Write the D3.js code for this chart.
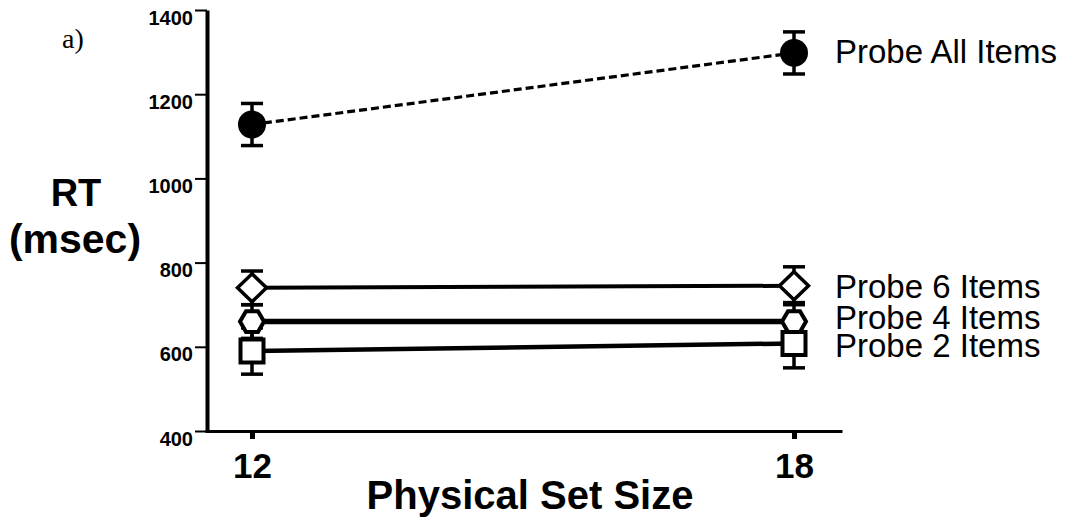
<!DOCTYPE html>
<html><head><meta charset="utf-8">
<script src="https://cdn.jsdelivr.net/npm/d3@7"></script>
<style>body{margin:0;background:#fff}svg{display:block;font-family:"Liberation Sans",Arial,sans-serif}</style>
</head><body><svg id="c" width="1075" height="529"></svg>
<script>
// ---- data ----
const setSizes = [12, 18];
const xTickValues = [12, 18];
const yTickValues = [400, 600, 800, 1000, 1200, 1400];
const seriesNames = ["Probe All Items", "Probe 6 Items", "Probe 4 Items", "Probe 2 Items"];
const probeAll = [1128, 1298];
const probeAllErr = [50, 50];
const probe6 = [740, 745];
const probe6Err = [40, 45];
const probe4 = [660, 660];
const probe4Err = [40, 45];
const probe2 = [590, 608];
const probe2Err = [55, 58];

// ---- layout / style ----
const svg = d3.select("#c");
const x = d3.scaleLinear().domain([12, 18]).range([252, 794]);
const y = d3.scaleLinear().domain([400, 1400]).range([431, 10]);
const axisX0 = 205, axisX1 = 842, axisY = 431, yAxisX = 207;

const series = [
  {name: seriesNames[0], vals: probeAll, errs: probeAllErr, lw: 3.2, dash: "8,4", marker: "circle", labelY: 63},
  {name: seriesNames[1], vals: probe6, errs: probe6Err, lw: 4, dash: null, marker: "diamond", labelY: 298},
  {name: seriesNames[2], vals: probe4, errs: probe4Err, lw: 5.5, dash: null, marker: "hexagon", labelY: 329},
  {name: seriesNames[3], vals: probe2, errs: probe2Err, lw: 4.5, dash: null, marker: "square", labelY: 357}
];

// ---- axes ----
const yAxis = svg.append("g").attr("transform", `translate(${yAxisX},0)`)
  .call(d3.axisLeft(y).tickValues(yTickValues).tickSize(12).tickSizeOuter(0).tickFormat(d3.format("d")));
yAxis.select(".domain").attr("stroke", "#000").attr("stroke-width", 4);
yAxis.selectAll(".tick line").attr("stroke", "#000").attr("stroke-width", 2);
yAxis.selectAll(".tick text").attr("x", -14).attr("y", 14).attr("dy", 0)
  .attr("font-size", 20).attr("font-weight", "bold").attr("fill", "#000")
  .attr("font-family", "'Liberation Sans', Arial, sans-serif");

const xAxisScale = x.copy().domain([x.invert(axisX0), x.invert(axisX1)]).range([axisX0, axisX1]);
const xAxis = svg.append("g").attr("transform", `translate(0,${axisY})`)
  .call(d3.axisBottom(xAxisScale).tickValues(xTickValues).tickSize(8).tickSizeOuter(0).tickFormat(d3.format("d")));
xAxis.select(".domain").attr("stroke", "#000").attr("stroke-width", 3);
xAxis.selectAll(".tick line").attr("stroke", "#000").attr("stroke-width", 5);
xAxis.selectAll(".tick text").attr("y", 47).attr("dy", 0)
  .attr("font-size", 35).attr("font-weight", "bold").attr("fill", "#000")
  .attr("font-family", "'Liberation Sans', Arial, sans-serif");

// ---- error bars ----
const capW = 11;
series.forEach(s => {
  const g = svg.append("g").attr("stroke", "#000").attr("stroke-width", 3.5);
  setSizes.forEach((k, i) => {
    const cx = x(k), top = y(s.vals[i] + s.errs[i]), bot = y(s.vals[i] - s.errs[i]);
    g.append("line").attr("x1", cx).attr("x2", cx).attr("y1", top).attr("y2", bot);
    g.append("line").attr("x1", cx - capW).attr("x2", cx + capW).attr("y1", top).attr("y2", top);
    g.append("line").attr("x1", cx - capW).attr("x2", cx + capW).attr("y1", bot).attr("y2", bot);
  });
});

// ---- lines ----
const line = d3.line().x((d, i) => x(setSizes[i])).y(d => y(d));
series.forEach(s => {
  svg.append("path").attr("d", line(s.vals)).attr("fill", "none").attr("stroke", "#000")
    .attr("stroke-width", s.lw).attr("stroke-dasharray", s.dash);
});

// ---- markers ----
const shapes = {
  diamond: "M0,-14L14.5,0L0,14L-14.5,0Z",
  hexagon: "M-12,0L-6,-10.4L6,-10.4L12,0L6,10.4L-6,10.4Z",
  square: "M-11.5,-11.5H11.5V11.5H-11.5Z"
};
series.forEach(s => {
  setSizes.forEach((k, i) => {
    const cx = x(k), cy = y(s.vals[i]);
    if (s.marker === "circle") {
      svg.append("circle").attr("cx", cx).attr("cy", cy).attr("r", 14).attr("fill", "#000");
    } else {
      svg.append("path").attr("d", shapes[s.marker]).attr("transform", `translate(${cx},${cy})`)
        .attr("fill", "#fff").attr("stroke", "#000")
        .attr("stroke-width", s.marker === "diamond" ? 3.5 : 4);
    }
  });
});

// ---- series labels ----
series.forEach(s => {
  svg.append("text").attr("x", 835).attr("y", s.labelY).attr("font-size", 33)
    .attr("fill", "#000").text(s.name);
});

// ---- titles ----
svg.append("text").attr("x", 62).attr("y", 48).attr("font-size", 28)
  .attr("font-family", "'Liberation Serif', 'Times New Roman', serif").text("a)");
svg.append("text").attr("x", 76).attr("y", 206).attr("text-anchor", "middle")
  .attr("font-size", 38).attr("font-weight", "bold").text("RT");
svg.append("text").attr("x", 75).attr("y", 253).attr("text-anchor", "middle")
  .attr("font-size", 41).attr("font-weight", "bold").text("(msec)");
svg.append("text").attr("x", 530).attr("y", 509).attr("text-anchor", "middle")
  .attr("font-size", 40).attr("font-weight", "bold").text("Physical Set Size");
</script></body></html>
